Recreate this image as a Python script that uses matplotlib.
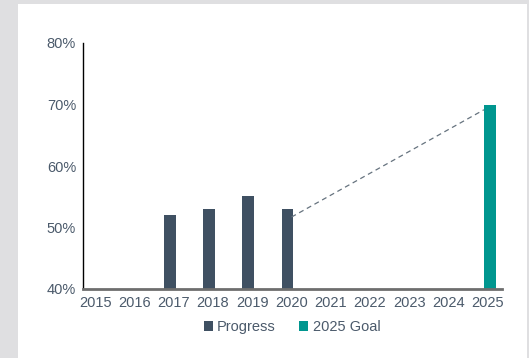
import matplotlib
matplotlib.use("Agg")
import matplotlib.pyplot as plt
from matplotlib.patches import Rectangle
import numpy as np

years = ["2015", "2016", "2017", "2018", "2019", "2020", "2021", "2022", "2023", "2024", "2025"]
progress = [None, None, 52, 53, 55.2, 53, None, None, None, None, None]
goal = [None, None, None, None, None, None, None, None, None, None, 70]
trend_years = ["2020", "2025"]
trend_values = [51.7, 69.5]
yticks = [40, 50, 60, 70, 80]
ytick_labels = ["40%", "50%", "60%", "70%", "80%"]

plt.rcParams['font.family'] = ['Liberation Sans', 'DejaVu Sans']
TEXT = '#4b5a6b'
C_PROG = '#3f5062'
C_GOAL = '#00968f'

fig = plt.figure(figsize=(5.29, 3.58), dpi=100)
fig.patch.set_facecolor('#dfdfe1')
fig.patches.append(Rectangle((18/529, 0), (527-18)/529, (358-4)/358,
                             transform=fig.transFigure, facecolor='white',
                             edgecolor='none', zorder=-10))

ax = fig.add_axes([83/529, 69/358, (502-83)/529, (289-43)/358])
ax.set_facecolor('none')
ax.set_zorder(1)

x = np.arange(len(years))
w = 0.3
px = [i - 0.1 for i, v in enumerate(progress) if v is not None]
pv = [v for v in progress if v is not None]
gx = [i + 0.05 for i, v in enumerate(goal) if v is not None]
gv = [v for v in goal if v is not None]

b1 = ax.bar(px, [v - 40 for v in pv], bottom=40, width=w, color=C_PROG, label='Progress', zorder=2)
b2 = ax.bar(gx, [v - 40 for v in gv], bottom=40, width=w, color=C_GOAL, label='2025 Goal', zorder=2)

# dashed trend line from 2020 to the goal bar's left edge
t0 = years.index(trend_years[0])
t1 = years.index(trend_years[1])
x_end = gx[0] - w / 2
y_end = trend_values[0] + (trend_values[1] - trend_values[0]) * (x_end - t0) / (t1 - t0)
ax.plot([t0, x_end], [trend_values[0], y_end], linestyle=(0, (4, 3)),
        color='#66737f', linewidth=0.9, zorder=3)

ax.set_xlim(-0.31, 10.36)
ax.set_ylim(40, 80)
ax.set_xticks(x)
ax.set_xticklabels(years)
ax.set_yticks(yticks)
ax.set_yticklabels(ytick_labels)
ax.tick_params(axis='both', length=0, colors=TEXT)
ax.tick_params(axis='x', labelsize=10.5, pad=5)
ax.tick_params(axis='y', labelsize=10.5, pad=5)

for s in ['top', 'right']:
    ax.spines[s].set_visible(False)
ax.spines['left'].set_color('black')
ax.spines['left'].set_linewidth(1.0)
ax.spines['bottom'].set_color('#6e6e6e')
ax.spines['bottom'].set_linewidth(2.0)
ax.spines['bottom'].set_zorder(4)

leg = fig.legend(handles=[b1, b2], loc='center', bbox_to_anchor=(292/529, 31/358),
                 ncol=2, frameon=False, fontsize=10.5, handlelength=0.62,
                 handleheight=0.62, handletextpad=0.3, columnspacing=1.6,
                 borderaxespad=0, borderpad=0)
for t in leg.get_texts():
    t.set_color(TEXT)

fig.savefig('out.png', dpi=100, facecolor=fig.get_facecolor())
